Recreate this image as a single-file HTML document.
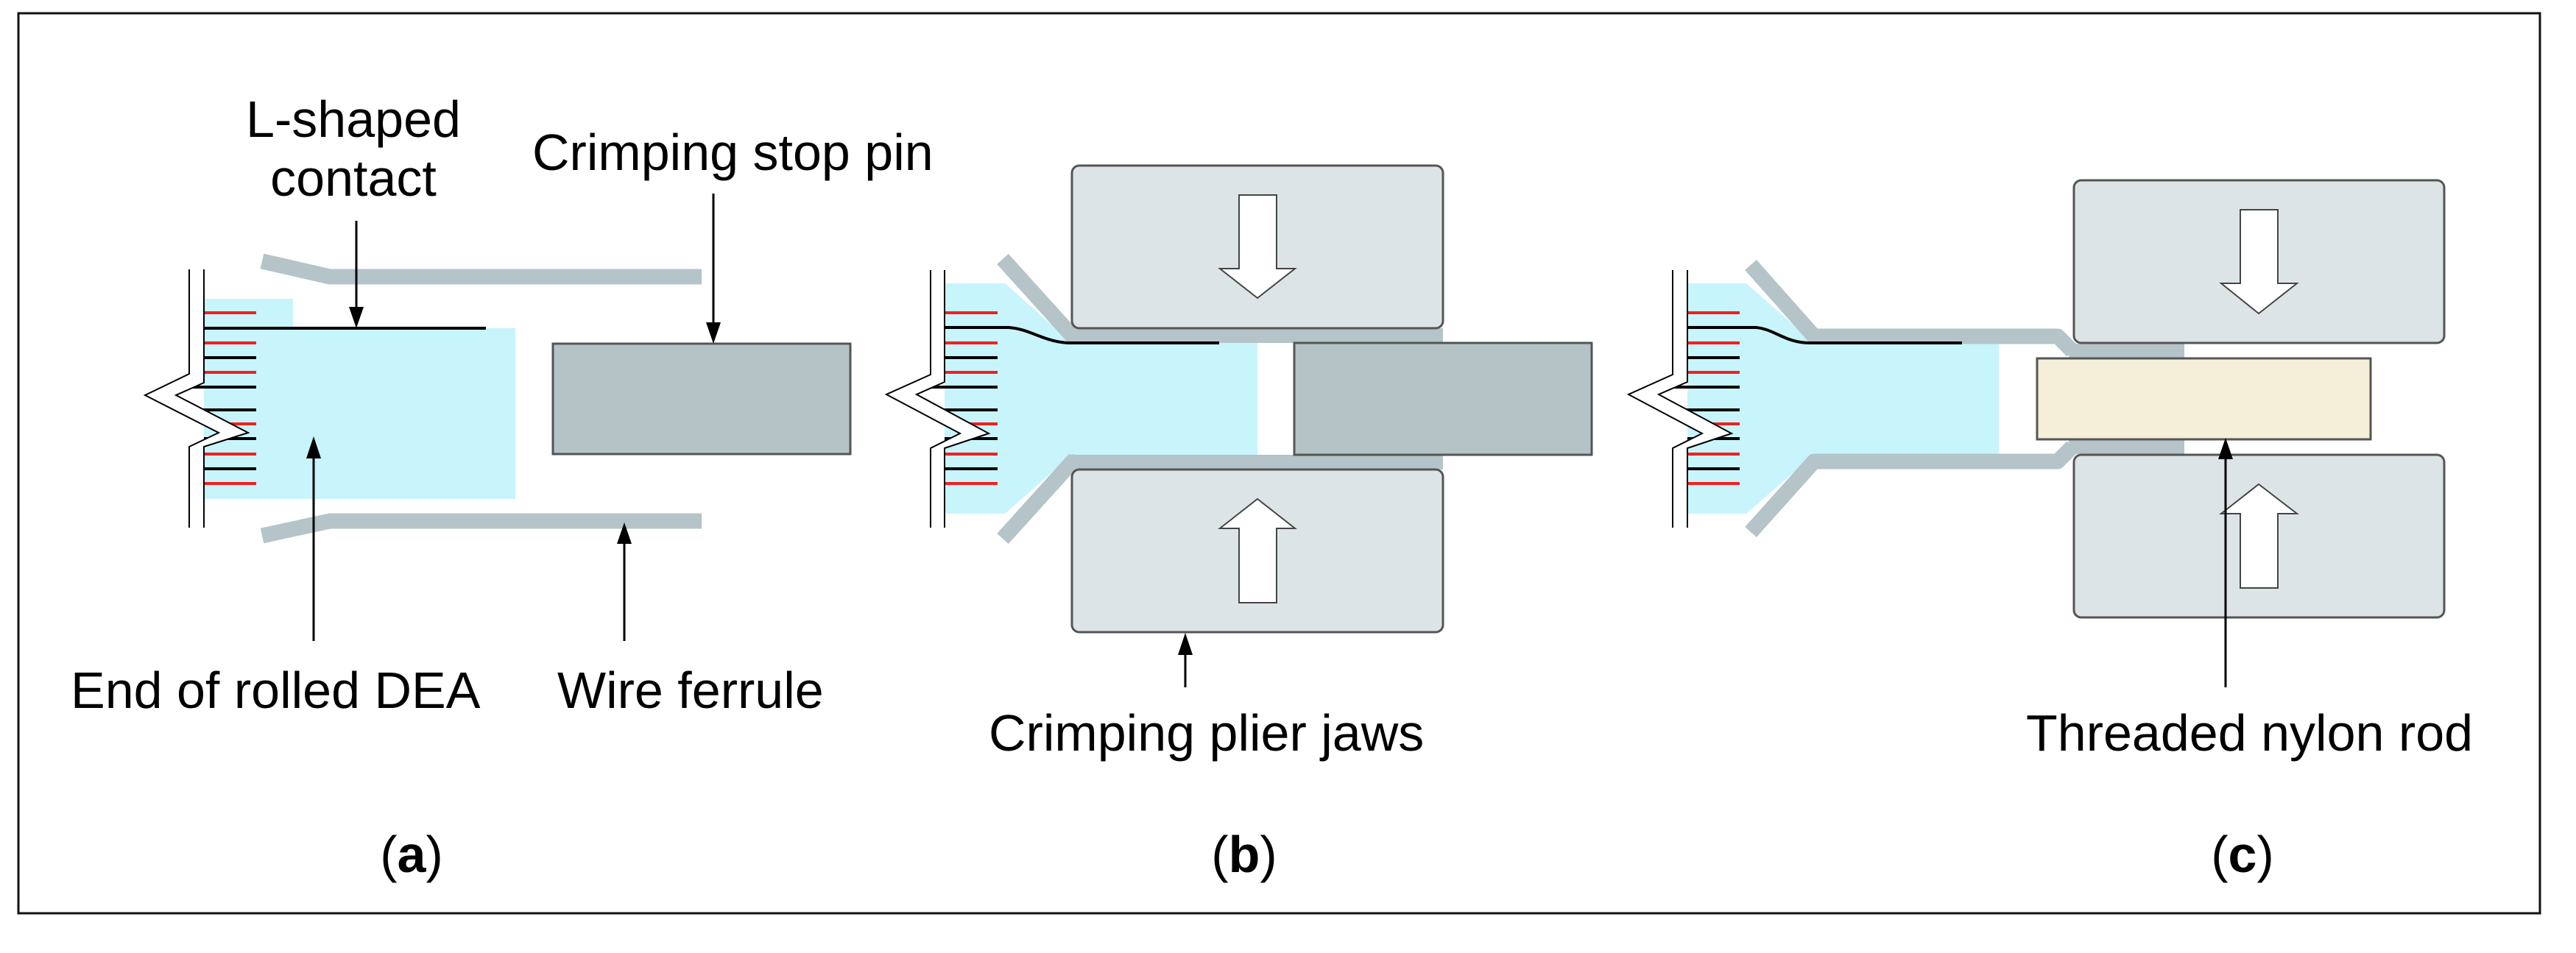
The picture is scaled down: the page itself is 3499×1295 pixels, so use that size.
<!DOCTYPE html>
<html><head><meta charset="utf-8"><style>
html,body{margin:0;padding:0;background:#fff}
svg{display:block}
text{font-family:"Liberation Sans",Arial,sans-serif;font-size:70px;fill:#000}
</style></head><body>
<svg width="3499" height="1295" viewBox="0 0 3499 1295" xmlns="http://www.w3.org/2000/svg">
<rect x="25" y="18" width="3425" height="1223" fill="#fff" stroke="#111" stroke-width="3"/>

<!-- ===== Panel a ===== -->
<polyline points="356,355 448,376 953,376" fill="none" stroke="#b4c4c8" stroke-width="21"/>
<polyline points="356,728 448,708 953,708" fill="none" stroke="#b4c4c8" stroke-width="21"/>
<rect x="277" y="406" width="121" height="50" fill="#c8f4fc"/>
<rect x="277" y="446" width="423" height="232" fill="#c8f4fc"/>
<g stroke-width="4">
<line x1="277" y1="425" x2="348" y2="425" stroke="#f02020"/>
<line x1="277" y1="466" x2="348" y2="466" stroke="#f02020"/>
<line x1="277" y1="486" x2="348" y2="486" stroke="#000"/>
<line x1="277" y1="506" x2="348" y2="506" stroke="#f02020"/>
<line x1="250" y1="526" x2="348" y2="526" stroke="#000"/>
<line x1="260" y1="557" x2="348" y2="557" stroke="#000"/>
<line x1="277" y1="576" x2="348" y2="576" stroke="#f02020"/>
<line x1="277" y1="596" x2="348" y2="596" stroke="#000"/>
<line x1="277" y1="617" x2="348" y2="617" stroke="#f02020"/>
<line x1="277" y1="637" x2="348" y2="637" stroke="#000"/>
<line x1="277" y1="657" x2="348" y2="657" stroke="#f02020"/>
<line x1="277" y1="446" x2="660" y2="446" stroke="#000"/>
</g>
<polygon points="257,366 257,508 197,537 297,588 257,607 257,717 277,717 277,607 337,588 239,537 277,520 277,366" fill="#fff"/>
<polyline points="257,366 257,508 197,537 297,588 257,607 257,717" fill="none" stroke="#000" stroke-width="2"/>
<polyline points="277,366 277,520 239,537 337,588 277,607 277,717" fill="none" stroke="#000" stroke-width="2"/>
<rect x="751" y="467" width="404" height="150" fill="#b4c3c6" stroke="#555" stroke-width="3"/>
<line x1="484" y1="300" x2="484" y2="420" stroke="#000" stroke-width="3"/>
<polygon points="474,417 494,417 484,446" fill="#000"/>
<line x1="969" y1="263" x2="969" y2="440" stroke="#000" stroke-width="3"/>
<polygon points="959,438 979,438 969,467" fill="#000"/>
<line x1="426" y1="871" x2="426" y2="620" stroke="#000" stroke-width="3"/>
<polygon points="416,623 436,623 426,593" fill="#000"/>
<line x1="848" y1="871" x2="848" y2="736" stroke="#000" stroke-width="3"/>
<polygon points="838,739 858,739 848,710" fill="#000"/>
<text x="480" y="186" text-anchor="middle">L-shaped</text>
<text x="480" y="266" text-anchor="middle">contact</text>
<text x="723" y="231">Crimping stop pin</text>
<text x="96" y="962">End of rolled DEA</text>
<text x="757" y="962">Wire ferrule</text>
<text x="559" y="1185" text-anchor="middle">(<tspan font-weight="bold">a</tspan>)</text>

<!-- ===== Panel b ===== -->
<polygon points="1283,385 1365,385 1456,466 1708,466 1708,618 1456,618 1365,698 1283,698" fill="#c8f4fc"/>
<rect x="1456" y="446" width="504" height="20" fill="#b4c4c8"/>
<rect x="1456" y="618" width="504" height="20" fill="#b4c4c8"/>
<polyline points="1362,352 1456,456 1460,456" fill="none" stroke="#b4c4c8" stroke-width="21"/>
<polyline points="1362,732 1456,628 1460,628" fill="none" stroke="#b4c4c8" stroke-width="21"/>
<rect x="1758" y="466" width="404" height="152" fill="#b4c3c6" stroke="#555" stroke-width="3"/>
<g stroke-width="4">
<line x1="1283" y1="425" x2="1355" y2="425" stroke="#f02020"/>
<line x1="1283" y1="466" x2="1355" y2="466" stroke="#f02020"/>
<line x1="1283" y1="486" x2="1355" y2="486" stroke="#000"/>
<line x1="1283" y1="506" x2="1355" y2="506" stroke="#f02020"/>
<line x1="1255" y1="526" x2="1355" y2="526" stroke="#000"/>
<line x1="1265" y1="557" x2="1355" y2="557" stroke="#000"/>
<line x1="1283" y1="576" x2="1355" y2="576" stroke="#f02020"/>
<line x1="1283" y1="596" x2="1355" y2="596" stroke="#000"/>
<line x1="1283" y1="617" x2="1355" y2="617" stroke="#f02020"/>
<line x1="1283" y1="637" x2="1355" y2="637" stroke="#000"/>
<line x1="1283" y1="657" x2="1355" y2="657" stroke="#f02020"/>
</g>
<path d="M1283,445 L1370,445 C1400,447 1420,466 1455,466 L1656,466" fill="none" stroke="#000" stroke-width="4"/>
<polygon points="1264,367 1264,509 1204,536 1304,589 1264,609 1264,717 1283,717 1283,609 1343,589 1245,536 1283,519 1283,367" fill="#fff"/>
<polyline points="1264,367 1264,509 1204,536 1304,589 1264,609 1264,717" fill="none" stroke="#000" stroke-width="2"/>
<polyline points="1283,367 1283,519 1245,536 1343,589 1283,609 1283,717" fill="none" stroke="#000" stroke-width="2"/>
<rect x="1456" y="225" width="504" height="221" rx="10" fill="#dce4e6" stroke="#555" stroke-width="3"/>
<rect x="1456" y="638" width="504" height="221" rx="10" fill="#dce4e6" stroke="#555" stroke-width="3"/>
<polygon points="1683,265 1734,265 1734,365 1759,365 1708,405 1657,365 1683,365" fill="#fff" stroke="#444" stroke-width="2"/>
<polygon points="1683,819 1734,819 1734,718 1759,718 1708,678 1657,718 1683,718" fill="#fff" stroke="#444" stroke-width="2"/>
<line x1="1610" y1="934" x2="1610" y2="888" stroke="#000" stroke-width="3"/>
<polygon points="1600,890 1620,890 1610,860" fill="#000"/>
<text x="1343" y="1020">Crimping plier jaws</text>
<text x="1690" y="1185" text-anchor="middle">(<tspan font-weight="bold">b</tspan>)</text>

<!-- ===== Panel c ===== -->
<polygon points="2292,385 2372,385 2464,466 2715,466 2715,618 2464,618 2372,698 2292,698" fill="#c8f4fc"/>
<rect x="2810" y="467" width="157" height="20" fill="#b4c4c8"/>
<rect x="2810" y="597" width="157" height="20" fill="#b4c4c8"/>
<polyline points="2378,360 2464,457 2795,457 2815,477" fill="none" stroke="#b4c4c8" stroke-width="21" stroke-linejoin="round"/>
<polyline points="2378,723 2464,627 2795,627 2815,607" fill="none" stroke="#b4c4c8" stroke-width="21" stroke-linejoin="round"/>
<rect x="2767" y="487" width="453" height="110" fill="#f5eed8" stroke="#555" stroke-width="3"/>
<g stroke-width="4">
<line x1="2292" y1="425" x2="2363" y2="425" stroke="#f02020"/>
<line x1="2292" y1="466" x2="2363" y2="466" stroke="#f02020"/>
<line x1="2292" y1="486" x2="2363" y2="486" stroke="#000"/>
<line x1="2292" y1="506" x2="2363" y2="506" stroke="#f02020"/>
<line x1="2264" y1="526" x2="2363" y2="526" stroke="#000"/>
<line x1="2274" y1="557" x2="2363" y2="557" stroke="#000"/>
<line x1="2292" y1="576" x2="2363" y2="576" stroke="#f02020"/>
<line x1="2292" y1="596" x2="2363" y2="596" stroke="#000"/>
<line x1="2292" y1="617" x2="2363" y2="617" stroke="#f02020"/>
<line x1="2292" y1="637" x2="2363" y2="637" stroke="#000"/>
<line x1="2292" y1="657" x2="2363" y2="657" stroke="#f02020"/>
</g>
<path d="M2292,445 L2385,445 C2410,447 2425,466 2458,466 L2665,466" fill="none" stroke="#000" stroke-width="4"/>
<polygon points="2272,367 2272,509 2212,536 2312,589 2272,609 2272,717 2292,717 2292,609 2352,589 2253,536 2292,519 2292,367" fill="#fff"/>
<polyline points="2272,367 2272,509 2212,536 2312,589 2272,609 2272,717" fill="none" stroke="#000" stroke-width="2"/>
<polyline points="2292,367 2292,519 2253,536 2352,589 2292,609 2292,717" fill="none" stroke="#000" stroke-width="2"/>
<rect x="2817" y="245" width="503" height="221" rx="10" fill="#dce4e6" stroke="#555" stroke-width="3"/>
<rect x="2817" y="618" width="503" height="221" rx="10" fill="#dce4e6" stroke="#555" stroke-width="3"/>
<polygon points="3043,285 3094,285 3094,385 3120,385 3068,426 3017,385 3043,385" fill="#fff" stroke="#444" stroke-width="2"/>
<polygon points="3043,799 3094,799 3094,698 3120,698 3068,658 3017,698 3043,698" fill="#fff" stroke="#444" stroke-width="2"/>
<line x1="3023" y1="934" x2="3023" y2="620" stroke="#000" stroke-width="3"/>
<polygon points="3013,624 3033,624 3023,595" fill="#000"/>
<text x="2752" y="1020">Threaded nylon rod</text>
<text x="3046" y="1185" text-anchor="middle">(<tspan font-weight="bold">c</tspan>)</text>
</svg>
</body></html>
